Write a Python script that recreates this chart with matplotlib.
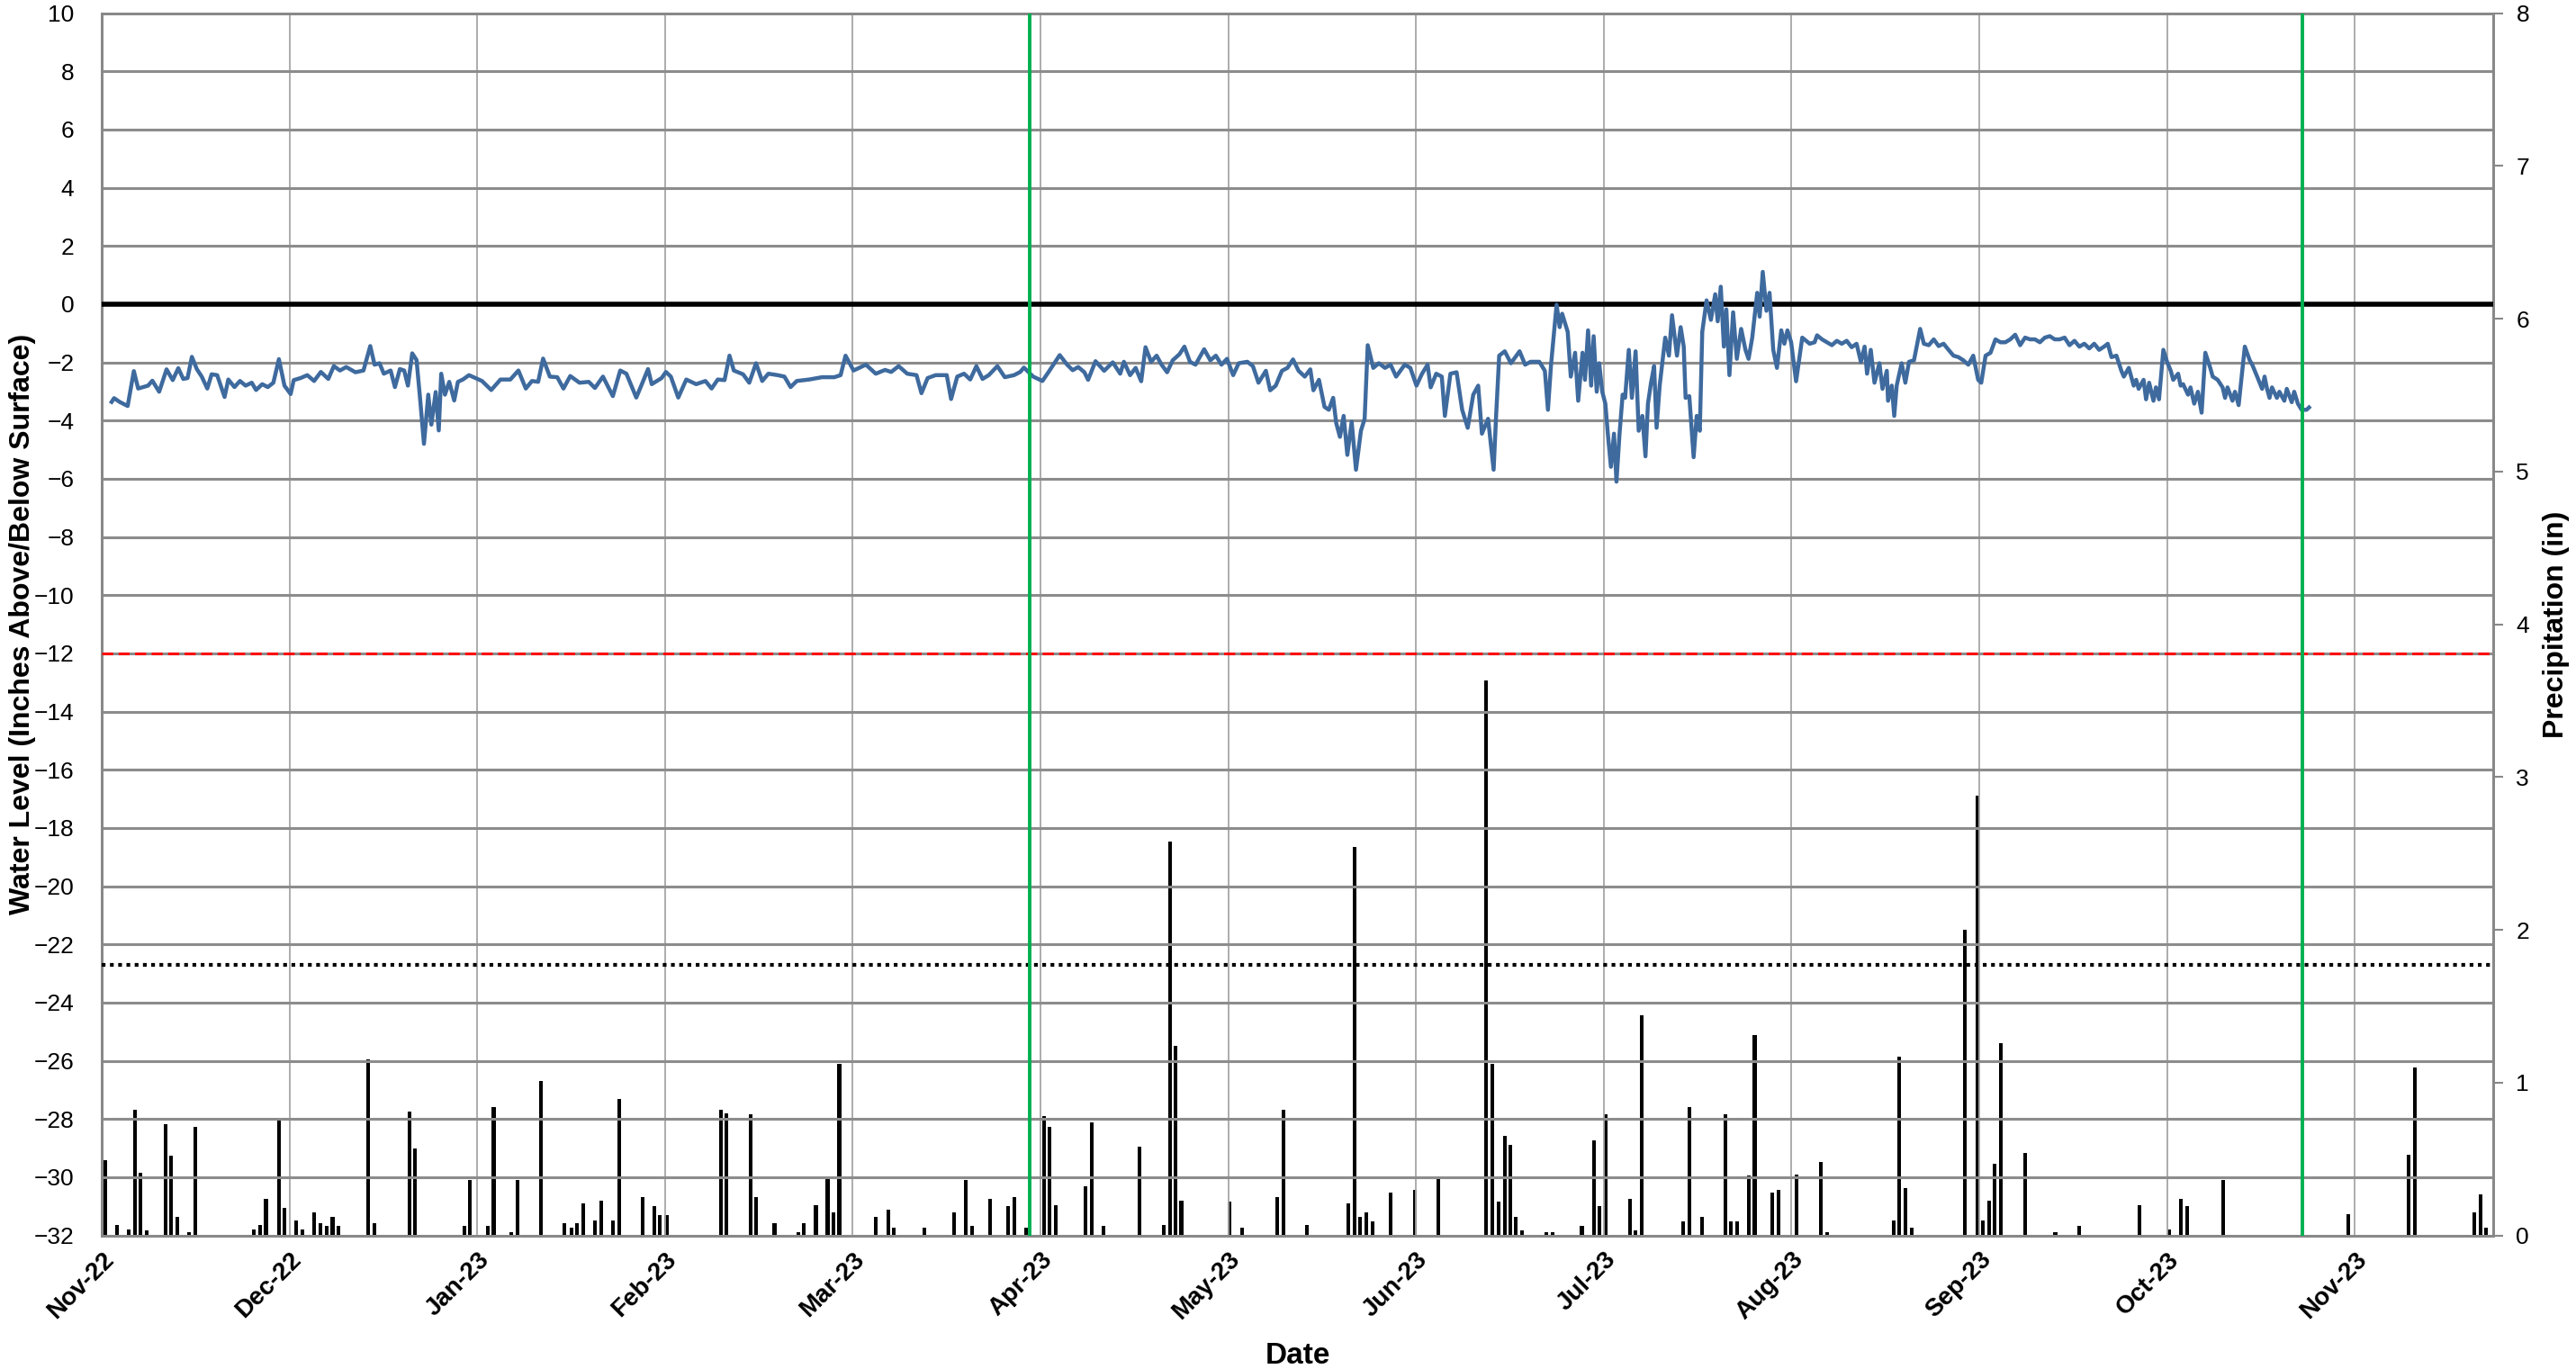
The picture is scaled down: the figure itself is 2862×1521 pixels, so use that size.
import matplotlib.pyplot as plt

plt.rcParams['font.family'] = ['Liberation Sans', 'DejaVu Sans']

# x values are days counted from the Nov-22 tick (month ticks are evenly spaced)
month_labels = ['Nov-22', 'Dec-22', 'Jan-23', 'Feb-23', 'Mar-23', 'Apr-23', 'May-23',
                'Jun-23', 'Jul-23', 'Aug-23', 'Sep-23', 'Oct-23', 'Nov-23']
month_len = 365.0 / 12

level_day = [
    1.6, 2.0, 2.9, 4.2, 5.2, 5.9, 7.5, 8.2, 9.3, 10.5, 11.5, 12.4, 13.2, 13.9, 14.6, 15.4,
    16.2, 17.1, 17.8, 18.7, 19.9, 20.5, 21.5, 22.4, 23.3, 24.3, 25.0, 26.0, 26.9, 27.8,
    28.7, 29.6, 30.6, 31.1, 32.2, 33.3, 34.4, 35.5, 36.7, 37.6, 38.6, 39.6, 41.1, 42.4,
    43.5, 44.2, 45.0, 45.7, 46.8, 47.5, 48.3, 49.0, 49.6, 50.3, 51.0, 51.6, 52.2, 52.9,
    53.4, 54.1, 54.6, 55.0, 55.6, 56.3, 57.1, 57.7, 58.5, 59.5, 61.6, 63.1, 64.6, 66.2,
    67.5, 68.7, 69.7, 70.7, 71.5, 72.6, 73.8, 74.8, 75.9, 77.4, 78.9, 79.9, 81.2, 82.8,
    84.0, 85.0, 86.6, 87.6, 88.5, 89.1, 90.7, 91.4, 92.2, 93.4, 94.7, 96.3, 97.8, 98.8,
    99.8, 100.9, 101.7, 102.4, 103.9, 104.9, 106.0, 107.0, 108.0, 109.5, 110.6, 111.6,
    112.6, 114.6, 116.7, 118.7, 119.7, 120.5, 121.8, 123.8, 125.4, 126.9, 127.9, 129.1,
    130.5, 132.0, 132.8, 133.8, 135.1, 136.1, 136.9, 137.6, 138.6, 139.7, 140.7, 141.7,
    142.7, 143.7, 145.1, 146.3, 147.8, 148.8, 149.4, 150.9, 152.4, 153.4,
    155.2, 156.4, 157.3, 158.2, 159.2, 159.8, 161.0, 162.4, 163.8, 165.0, 165.6, 166.6,
    167.5, 168.4, 169.1, 170.0, 170.9, 171.7, 172.6, 173.5, 174.6, 175.4, 176.3, 177.2,
    178.6, 179.6, 180.5, 181.4, 182.3, 183.3, 184.2, 185.6, 186.5, 187.4, 188.6, 189.3,
    190.2, 191.2, 192.1, 193.0, 193.9, 194.9, 195.8, 196.3, 197.2, 198.1, 198.8, 199.5,
    200.0, 200.6, 201.2, 201.8, 202.5, 203.2, 204.0, 204.6, 205.1, 206.0, 206.9, 207.9,
    208.8, 209.7, 211.1, 212.0, 213.0, 213.9, 214.8, 215.3, 216.2, 217.1, 217.6, 218.5,
    219.5, 220.4, 221.3, 222.2, 223.0, 223.6, 224.6, 225.5, 225.9, 226.4, 227.3, 228.3,
    229.7, 230.6, 231.5, 232.9, 233.8, 234.3, 234.8, 235.7, 236.2, 236.6, 237.5, 238.0,
    238.7, 239.2, 239.9, 240.3, 240.8, 241.3, 241.7, 242.2, 242.6, 243.1, 243.6, 244.0,
    244.5, 245.0, 245.4, 245.9, 246.4, 246.8, 247.4, 247.9, 248.5, 249.0, 249.6, 250.1,
    250.5, 251.0, 251.5, 251.9, 252.4, 253.3, 253.9, 254.4, 255.2, 255.8, 256.3, 256.6,
    257.2, 257.9, 258.4, 258.9, 259.3, 260.0, 260.7, 261.4, 261.8, 262.3, 262.8, 263.2,
    263.7, 264.3, 264.9, 265.6, 266.3, 266.8, 267.4, 268.2, 268.6, 269.1, 269.7, 270.2,
    270.8, 271.4, 272.1, 272.6, 273.1, 273.7, 274.5,
    275.5, 276.7, 277.5, 277.9, 278.7, 279.5, 280.3, 281.1, 281.9, 282.7, 283.5, 284.3,
    285.0, 285.6, 286.0, 286.6, 287.2, 288.0, 288.5, 289.2, 289.4, 290.0, 290.4, 290.8,
    291.6, 292.2, 292.8, 293.6, 294.6, 295.2, 296.0, 296.8, 297.6, 298.4, 299.2, 300.0,
    300.8, 301.6, 302.4, 303.2, 304.0, 304.5, 305.2, 306.0, 306.8, 307.6, 308.4, 309.2,
    310.0, 310.8, 311.6, 312.4, 313.2, 314.0, 314.8, 315.6, 316.4, 317.2, 318.0, 318.8,
    319.6, 320.4, 321.2, 322.0, 322.8, 323.6, 324.4, 325.0, 325.6, 326.4, 327.2, 327.6,
    328.4, 329.2, 329.6, 330.0, 330.8, 331.2, 331.7, 332.4, 332.8, 333.3, 334.0, 334.6,
    335.2, 335.6, 336.4, 336.8, 337.2, 338.0, 338.4, 339.0, 339.6, 340.2, 340.8, 341.6,
    342.0, 342.8, 343.6, 344.0, 344.4, 345.2, 345.6, 346.2, 347.2, 348.0, 348.4, 349.2,
    350.0, 350.4, 350.8, 351.2, 351.6, 352.4, 352.8, 353.6, 354.0, 354.8, 355.2, 355.8,
    356.4, 357.2, 357.6,
]
level_in = [
    -3.36, -3.23, -3.36, -3.50, -2.30, -2.90, -2.80, -2.63, -3.01, -2.24, -2.61, -2.20,
    -2.57, -2.54, -1.81, -2.23, -2.49, -2.90, -2.41, -2.44, -3.19, -2.59, -2.85, -2.64,
    -2.80, -2.70, -2.95, -2.75, -2.85, -2.70, -1.89, -2.80, -3.09, -2.61, -2.54, -2.44,
    -2.64, -2.33, -2.57, -2.13, -2.28, -2.16, -2.34, -2.28, -1.44, -2.08, -2.03, -2.39,
    -2.28, -2.85, -2.23, -2.28, -2.80, -1.69, -1.92, -3.31, -4.80, -3.11, -4.14, -3.02,
    -4.34, -2.39, -3.11, -2.67, -3.31, -2.67, -2.59, -2.44, -2.64, -2.95, -2.59, -2.59,
    -2.28, -2.90, -2.64, -2.67, -1.87, -2.49, -2.51, -2.90, -2.47, -2.70, -2.67, -2.88,
    -2.49, -3.16, -2.28, -2.39, -3.21, -2.70, -2.23, -2.75, -2.54, -2.33, -2.49, -3.21,
    -2.59, -2.75, -2.64, -2.90, -2.59, -2.61, -1.77, -2.28, -2.41, -2.70, -2.03, -2.64,
    -2.39, -2.44, -2.49, -2.85, -2.64, -2.59, -2.51, -2.51, -2.44, -1.77, -2.28, -2.08,
    -2.39, -2.26, -2.33, -2.13, -2.39, -2.44, -3.06, -2.54, -2.44, -2.44, -2.44, -3.26,
    -2.49, -2.39, -2.59, -2.13, -2.57, -2.44, -2.13, -2.51, -2.44, -2.33, -2.18, -2.49,
    -2.64, -2.33,
    -1.75, -2.08, -2.27, -2.16, -2.34, -2.60, -1.96, -2.29, -2.00, -2.39, -1.98, -2.44,
    -2.19, -2.65, -1.48, -1.98, -1.77, -2.08, -2.34, -1.93, -1.72, -1.46, -1.98, -2.08,
    -1.55, -1.93, -1.77, -2.08, -1.88, -2.44, -2.03, -1.98, -2.13, -2.70, -2.29, -2.96,
    -2.80, -2.29, -2.19, -1.90, -2.29, -2.49, -2.24, -2.96, -2.60, -3.53, -3.63, -3.22,
    -4.09, -4.56, -3.84, -5.18, -4.04, -5.69, -4.35, -3.94, -1.41, -2.19, -2.03, -2.19,
    -2.08, -2.49, -2.08, -2.19, -2.80, -2.39, -2.08, -2.86, -2.39, -2.49, -3.84, -2.39,
    -2.34, -3.63, -4.25, -3.11, -2.80, -4.45, -3.94, -5.69, -3.84, -1.77, -1.62, -2.03,
    -1.62, -2.08, -1.98, -1.98, -2.29, -3.63, -2.08, -0.02, -0.79, -0.33, -0.95, -2.49,
    -1.67, -3.32, -1.67, -2.60, -0.90, -2.80, -1.10, -3.01, -2.03, -3.01, -3.42, -4.45,
    -5.59, -4.45, -6.10, -4.45, -3.11, -3.22, -1.57, -3.22, -1.62, -4.35, -3.84, -5.23,
    -3.42, -2.70, -2.13, -4.25, -2.80, -1.15, -1.77, -0.38, -1.77, -0.79, -1.46, -3.22,
    -3.16, -5.26, -3.84, -4.35, -0.95, 0.13, -0.54, 0.34, -0.59, 0.60, -1.46, -0.18,
    -2.44, -0.28, -1.88, -0.85, -1.57, -1.88, -1.15, 0.39, -0.43, 1.11, -0.23, 0.39,
    -1.57, -2.19, -0.90, -1.36, -0.90, -1.31, -2.65,
    -1.15, -1.36, -1.31, -1.07, -1.21, -1.31, -1.41, -1.26, -1.36, -1.26, -1.48, -1.36,
    -1.98, -1.46, -2.39, -1.57, -2.70, -2.03, -2.91, -2.29, -3.32, -2.80, -3.84, -2.80,
    -2.03, -2.70, -1.98, -1.93, -0.85, -1.36, -1.41, -1.21, -1.44, -1.36, -1.57, -1.77,
    -1.82, -1.93, -2.08, -1.77, -2.60, -2.70, -1.77, -1.67, -1.21, -1.31, -1.31, -1.21,
    -1.05, -1.41, -1.15, -1.21, -1.21, -1.31, -1.15, -1.10, -1.21, -1.21, -1.15, -1.41,
    -1.26, -1.46, -1.36, -1.52, -1.36, -1.57, -1.46, -1.36, -1.82, -1.77, -2.29, -2.49,
    -2.19, -2.80, -2.60, -2.91, -2.60, -3.27, -2.70, -3.32, -2.86, -3.27, -1.57, -1.98,
    -2.29, -2.60, -2.39, -2.80, -2.75, -3.11, -2.86, -3.42, -3.01, -3.73, -1.67, -2.19,
    -2.49, -2.60, -2.86, -3.22, -2.86, -3.32, -3.01, -3.47, -1.46, -1.93, -2.08, -2.49,
    -2.91, -2.49, -2.91, -3.22, -2.86, -3.22, -3.01, -3.32, -2.91, -3.37, -3.01, -3.42,
    -3.63, -3.63, -3.55,
]

rain_day = [
    0.6, 2.5, 4.4, 5.4, 6.3, 7.3, 10.3, 11.2, 12.2, 14.1, 15.1, 24.7, 25.7, 26.6, 28.7,
    29.6, 31.5, 32.5, 34.4, 35.4, 36.4, 37.4, 38.3, 43.1, 44.2, 49.9, 50.8, 58.7, 59.6,
    62.5, 63.5, 66.3, 67.3, 71.2, 75.0, 76.1, 77.0, 78.0, 79.9, 80.9, 82.8, 83.8, 87.6,
    89.5, 90.4, 91.5, 100.3, 101.2, 105.1, 106.0, 109.0, 112.8, 113.7, 115.7, 117.6,
    118.6, 119.5, 125.4, 127.4, 128.3, 133.3, 138.1, 140.0, 141.0, 143.9, 146.8, 147.8,
    149.7, 152.7, 153.6, 154.6, 159.4, 160.4, 162.3, 168.1, 172.0, 173.1, 174.0, 174.9,
    182.7, 184.7, 190.4, 191.4, 195.3, 202.0, 203.0, 203.9, 204.9, 205.9, 208.8, 212.7,
    216.6, 224.3, 225.3, 226.3, 227.3, 228.2, 229.1, 230.1, 234.0, 235.0, 239.8, 241.7,
    242.6, 243.7, 247.6, 248.5, 249.5, 256.2, 257.2, 259.2, 263.0, 263.9, 264.9, 266.9,
    267.8, 270.7, 271.7, 274.6, 278.5, 279.5, 290.3, 291.2, 292.2, 293.2, 301.9, 303.9,
    304.8, 305.8, 306.7, 307.7, 311.6, 316.5, 320.3, 330.1, 334.9, 336.9, 337.8, 343.7,
    364.0, 373.7, 374.7, 384.4, 385.4, 386.3,
]
rain_in = [
    0.49, 0.07, 0.04, 0.82, 0.41, 0.03, 0.73, 0.52, 0.12, 0.02, 0.71, 0.04, 0.07, 0.24, 0.76,
    0.18, 0.10, 0.04, 0.15, 0.08, 0.06, 0.12, 0.06, 1.15, 0.08, 0.81, 0.57, 0.06, 0.36,
    0.06, 0.84, 0.02, 0.36, 1.01, 0.08, 0.05, 0.08, 0.21, 0.10, 0.23, 0.10, 0.89, 0.25,
    0.19, 0.13, 0.13, 0.82, 0.80, 0.79, 0.25, 0.08, 0.02, 0.08, 0.20, 0.38,
    0.15, 1.12, 0.12, 0.17, 0.05, 0.05, 0.15, 0.36, 0.06, 0.24, 0.19, 0.25,
    0.05, 0.78, 0.71, 0.20, 0.32, 0.74, 0.06, 0.58, 0.07, 2.58, 1.24, 0.23,
    0.22, 0.05, 0.25, 0.82, 0.07, 0.21, 2.54, 0.12, 0.15, 0.09, 0.28, 0.30,
    0.38, 3.63, 1.12, 0.22, 0.65, 0.59, 0.12, 0.03, 0.02, 0.02, 0.06, 0.62,
    0.19, 0.79, 0.24, 0.03, 1.44, 0.09, 0.84, 0.12, 0.79, 0.09, 0.09, 0.39,
    1.31, 0.28, 0.30, 0.40, 0.48, 0.02, 0.10, 1.17, 0.31, 0.05, 2.00, 2.88,
    0.10, 0.23, 0.47, 1.26, 0.54, 0.02, 0.06, 0.20, 0.04, 0.24, 0.19, 0.36,
    0.14, 0.53, 1.10, 0.15, 0.27, 0.05,
]

surface_level = 0
red_line_level = -12
dotted_level = -22.7
event_days = [150.3, 356.5]

fig = plt.figure(figsize=(28.62, 15.21), dpi=100)
ax = fig.add_subplot(111)
fig.subplots_adjust(left=0.0395, right=0.968, top=0.9904, bottom=0.0976)
ax2 = ax.twinx()
ax.set_zorder(ax2.get_zorder() + 1)
ax.patch.set_visible(False)

# precipitation bars on the right axis
ax2.bar(rain_day, rain_in, width=0.6, color='black', zorder=2)
ax2.set_ylim(0, 8)
ax2.set_yticks(range(0, 9))
ax2.tick_params(axis='y', labelsize=19, length=8, width=1.5, color='#888888', pad=10)
ax2.set_ylabel('Precipitation (in)', fontsize=23, fontweight='bold', rotation=90)
ax2.yaxis.set_label_coords(1.0207, 0.5)

# water level and reference lines on the left axis
ax.plot(level_day, level_in, color='#3E6A9E', lw=3.2, zorder=4)
ax.axhline(surface_level, color='black', lw=4, zorder=3)
ax.axhline(red_line_level, color='#FF0000', lw=2.2, ls=(0, (4, 2)), zorder=3)
ax.axhline(dotted_level, color='black', lw=3, ls=(0, (1, 1.2)), zorder=3)
for d in event_days:
    ax.axvline(d, color='#00B050', lw=2.8, zorder=5)

ax.set_xlim(0, 387.5)
ax.set_ylim(-32, 10)
ax.set_yticks(range(-32, 11, 2))
ax.set_xticks([i * month_len for i in range(len(month_labels))])
ax.set_xticklabels(month_labels, rotation=45, ha='right', rotation_mode='anchor',
                   fontsize=20, fontweight='bold')
ax.tick_params(axis='x', length=0, pad=10)
ax.tick_params(axis='y', labelsize=19, length=0, pad=22)

ax2.grid(False)
ax.set_axisbelow(True)
ax.yaxis.grid(True, color='#8C8C8C', lw=2.2)
ax.xaxis.grid(True, color='#A6A6A6', lw=1.3)
for a in (ax, ax2):
    for s in a.spines.values():
        s.set_color('#888888')
        s.set_linewidth(2)

ax.set_xlabel('Date', fontsize=24, fontweight='bold')
ax.xaxis.set_label_coords(0.5, -0.087)
ax.set_ylabel('Water Level (Inches Above/Below Surface)', fontsize=23, fontweight='bold')
ax.yaxis.set_label_coords(-0.0275, 0.5)

plt.savefig('out.png', dpi=100)
